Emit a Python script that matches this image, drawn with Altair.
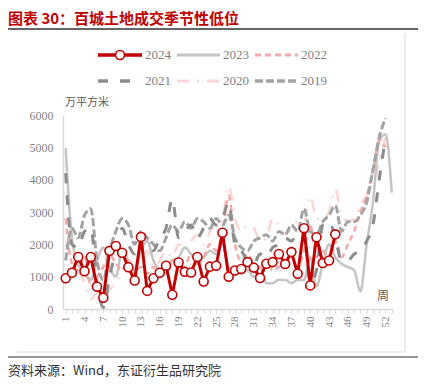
import altair as alt
import pandas as pd

weeks = list(range(1, 54))
years = ["2020", "2023", "2022", "2019", "2021", "2024"]

y2024 = [950, 1120, 1610, 1170, 1610, 690, 350, 1800, 1950, 1740,
         1290, 880, 2230, 560, 950, 1120, 1340, 440, 1440, 1150,
         1130, 1610, 850, 1310, 1340, 2360, 1000, 1190, 1240, 1450,
         1280, 960, 1400, 1450, 1700, 1390, 1760, 1090, 2500, 730,
         2220, 1420, 1500, 2310]
y2023 = [4980, 2200, 1400, 1100, 900, 1500, 1900, 1300, 1000, 1800,
         1500, 1200, 1800, 2100, 1500, 1200, 1100, 1500, 1600, 1900,
         1700, 1500, 1600, 1800, 1700, 2000, 1300, 1200, 1100, 1200,
         1000, 1300, 800, 800, 900, 900, 800, 900, 900, 1600,
         700, 1400, 2000, 1600, 1400, 1300, 1200, 550, 2000, 3300,
         5200, 5400, 3600]
y2022 = [2800, 1400, 1200, 1600, 700, 1000, 1300, 1700, 1400, 1200,
         1500, 1100, 1300, 1100, 1300, 1000, 1300, 1500, 1200, 1300,
         1700, 1400, 1600, 2000, 1800, 2400, 3500, 2000, 1500, 1700,
         1400, 1300, 1500, 1200, 1300, 1400, 1400, 1300, 1800, 2600,
         1600, 1800, 1500, 2100, 1600, 2000, 2400, 3000, 3500, 4300,
         5200, 5000]
y2021 = [4200, 2000, 1900, 2400, 2500, 800, 50, 1000, 1800, 2500,
         2000, 1700, 2200, 2000, 1800, 2200, 2500, 3400, 2200, 2400,
         2600, 2200, 2500, 2800, 2600, 2800, 3300, 2000, 1800, 1500,
         1400, 1700, 1600, 1900, 2000, 2200, 2100, 2400, 2500, 800,
         1200, 2600, 2700, 2200, 1500, 1500, 1700, 1800, 2100, 2600,
         4000, 5300]
y2020 = [2000, 1600, 1200, 800, 300, 500, 200, 600, 800, 1200,
         1500, 1700, 1600, 1800, 1300, 1500, 1800, 1600, 2000, 1800,
         2100, 2300, 2000, 2400, 2600, 2800, 3800, 2800, 2400, 2600,
         2500, 2100, 2200, 2800, 2600, 2300, 2500, 2700, 2700, 3500,
         2800, 2800, 3000, 3700, 2900, 2700, 2800, 3200, 3500, 3700,
         4600, 5300]
y2019 = [1500, 2500, 2200, 2900, 3100, 1500, 900, 1800, 2400, 2800,
         2600, 2000, 2400, 2200, 2000, 1800, 2200, 2600, 2400, 2700,
         2500, 2800, 2700, 2500, 2800, 2600, 2900, 2200, 1900, 1800,
         2100, 2200, 2300, 2100, 2400, 2300, 2600, 2400, 3100, 2400,
         2300, 2700, 2900, 3200, 2400, 2700, 2700, 2900, 3300, 4300,
         5300, 5900]

series = {"2024": y2024, "2023": y2023, "2022": y2022,
          "2021": y2021, "2020": y2020, "2019": y2019}

rows = []
for yr, vals in series.items():
    for w, v in zip(weeks, vals):
        rows.append({"week": w, "value": v, "year": yr})
df = pd.DataFrame(rows)

styles = {
    "2024": dict(color="#c00000", width=3, dash=[1, 0]),
    "2023": dict(color="#c4c4c4", width=2.5, dash=[1, 0]),
    "2022": dict(color="#f5aaaa", width=2.5, dash=[6, 4]),
    "2021": dict(color="#8c8c8c", width=3, dash=[10, 12]),
    "2020": dict(color="#fcd6d6", width=2.5, dash=[12, 8, 2, 8]),
    "2019": dict(color="#a3a3a3", width=3, dash=[8, 3]),
}
legend_order = ["2024", "2023", "2022", "2021", "2020", "2019"]

X = alt.X("week:Q",
          scale=alt.Scale(domain=[0.57, 53.2], nice=False, zero=False),
          axis=alt.Axis(values=weeks, title=None, grid=False,
                        labelExpr="(datum.value - 1) % 3 == 0 ? toString(datum.value) : ''",
                        labelAngle=270, labelOverlap=False, labelBound=False,
                        labelFlush=False, tickSize=4,
                        tickColor="#d9d9d9", domainColor="#d9d9d9",
                        domainWidth=1.5, labelFont="Liberation Serif",
                        labelFontSize=11, labelColor="#7f7f7f",
                        labelPadding=3))
Y = alt.Y("value:Q",
          scale=alt.Scale(domain=[0, 6000], nice=False),
          axis=alt.Axis(values=[0, 1000, 2000, 3000, 4000, 5000, 6000],
                        format="d", title=None, grid=False, ticks=False,
                        domainColor="#d9d9d9", domainWidth=1.5,
                        labelFont="Liberation Serif", labelFontSize=12,
                        labelColor="#7f7f7f", labelPadding=10))

one = pd.DataFrame({"a": [0]})

layers = []
for yr in years:
    st = styles[yr]
    base = alt.Chart(df).transform_filter(alt.datum.year == yr)
    if yr == "2024":
        layers.append(base.mark_line(color=st["color"], strokeWidth=st["width"])
                      .encode(x=X, y=Y))
        layers.append(base.mark_point(shape="circle", filled=True, fill="white",
                                      stroke=st["color"], strokeWidth=1.6,
                                      size=80, opacity=1)
                      .encode(x=X, y=Y))
    else:
        layers.append(base.mark_line(color=st["color"], strokeWidth=st["width"],
                                     strokeDash=st["dash"], interpolate="monotone")
                      .encode(x=X, y=Y))

# legend (layout constants)
sx = [35, 114, 192]
ex = [79, 157, 235]
ry = [-60, -34]
for i, yr in enumerate(legend_order):
    st = styles[yr]
    c, r = i % 3, i // 3
    layers.append(alt.Chart(one).mark_rule(color=st["color"], strokeWidth=st["width"] + 0.5,
                                           strokeDash=st["dash"])
                  .encode(x=alt.value(sx[c]), x2=alt.value(ex[c]), y=alt.value(ry[r])))
    if yr == "2024":
        layers.append(alt.Chart(one).mark_point(shape="circle", filled=True, fill="white",
                                                stroke=st["color"], strokeWidth=1.6,
                                                size=80, opacity=1)
                      .encode(x=alt.value((sx[c] + ex[c]) / 2), y=alt.value(ry[r])))
    layers.append(alt.Chart(one).mark_text(align="left", baseline="middle",
                                           font="Liberation Serif", fontSize=13,
                                           color="#7f7f7f")
                  .encode(x=alt.value(ex[c] + 3), y=alt.value(ry[r]), text=alt.value(yr)))

def txt(s, x, y, **kw):
    return alt.Chart(one).mark_text(**kw).encode(x=alt.value(x), y=alt.value(y),
                                                 text=alt.value(s))

def rule(x1, x2, y1, y2, color, w):
    return alt.Chart(one).mark_rule(color=color, strokeWidth=w).encode(
        x=alt.value(x1), x2=alt.value(x2), y=alt.value(y1), y2=alt.value(y2))

layers.append(txt("图表 30：百城土地成交季节性低位", -55, -96, align="left",
                  baseline="middle", font="Noto Sans CJK SC", fontSize=15,
                  fontWeight="bold", color="#c00000"))
layers.append(rule(-63, 357, -86, -86, "#333333", 1.5))
layers.append(rule(342, 342, -82, 237, "#d9d9d9", 1))
layers.append(rule(-46, 342, 237, 237, "#d9d9d9", 1))
layers.append(rule(-63, 357, 242, 242, "#333333", 1.2))
layers.append(txt("万平方米", 2, -12, align="left", baseline="middle",
                  font="Noto Sans CJK SC", fontSize=11, color="#595959"))
layers.append(txt("周", 320, 181, align="center", baseline="middle",
                  font="Noto Sans CJK SC", fontSize=12, color="#595959"))
layers.append(txt("资料来源：Wind，东证衍生品研究院", -55, 256, align="left",
                  baseline="middle", font="Noto Sans CJK SC", fontSize=13,
                  color="#333333"))

chart = alt.layer(*layers).properties(
    width=330, height=194,
    autosize=alt.AutoSizeParams(type="none"),
    padding={"left": 55, "top": 107, "right": 25, "bottom": 72},
).configure_view(stroke=None)

chart.save("out.html", embed_options={"renderer": "svg", "actions": False})
